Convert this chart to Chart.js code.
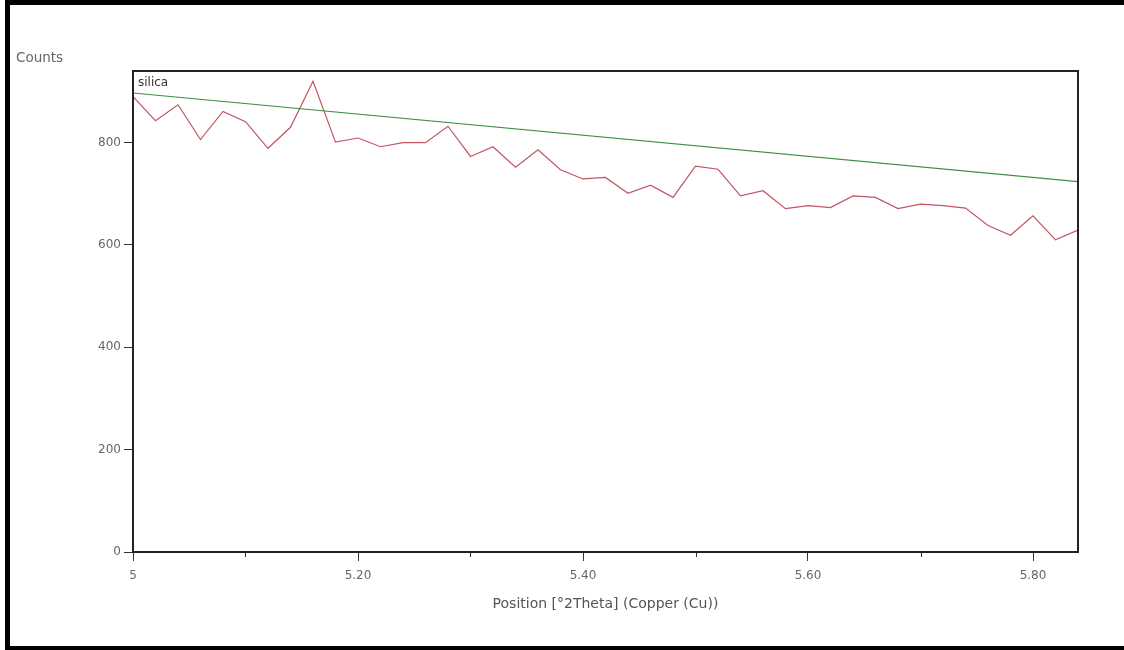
<!DOCTYPE html>
<html>
<head>
<meta charset="utf-8">
<script src="https://cdn.jsdelivr.net/npm/chart.js@4"></script>
<style>
  body { margin: 0; background: #fff; }
  #wrap { position: relative; width: 1124px; height: 650px; overflow: hidden; }
  #frame {
    position: absolute; left: 5px; top: 0; width: 1119px; height: 650px;
    box-sizing: border-box; border-top: 5px solid #000; border-left: 5px solid #000; border-bottom: 4px solid #000;
  }
  #myChart { position: absolute; left: 0; top: 0; }
</style>
</head>
<body>
<div id="wrap">
  <div id="frame"></div>
  <canvas id="myChart" width="1124" height="650"></canvas>
</div>
<script>
//* DATA *//
let positions = [5.00, 5.02, 5.04, 5.06, 5.08, 5.10, 5.12, 5.14, 5.16, 5.18,
  5.20, 5.22, 5.24, 5.26, 5.28, 5.30, 5.32, 5.34, 5.36, 5.38,
  5.40, 5.42, 5.44, 5.46, 5.48, 5.50, 5.52, 5.54, 5.56, 5.58,
  5.60, 5.62, 5.64, 5.66, 5.68, 5.70, 5.72, 5.74, 5.76, 5.78,
  5.80, 5.82, 5.84];
let counts = [890, 843, 874, 806, 861, 841, 789, 830, 920, 801,
  809, 792, 800, 800, 832, 773, 792, 752, 786, 747,
  729, 732, 701, 717, 693, 754, 748, 696, 706, 671,
  677, 673, 696, 693, 671, 680, 677, 672, 638, 619,
  657, 610, 629];
// reference pattern line
let silicaPositions = [5.00, 5.84];
let silicaCounts = [897, 724];
let xTickLabels = ['5', '5.20', '5.40', '5.60', '5.80'];
let yTicks = [0, 200, 400, 600, 800];

let ctx = document.getElementById('myChart');
let fontFam = '"DejaVu Sans", sans-serif';

function toPoints(xs, ys) {
  let pts = [];
  for (let i = 0; i < xs.length; i++) {
    pts.push({ x: xs[i], y: ys[i] });
  }
  return pts;
}

function isMajor(v) {
  return Math.round(v * 10) % 2 === 0;
}

//* PLUGIN: frame, minor ticks, extra labels *//
let extras = {
  id: 'extras',
  afterDraw(chart) {
    let c = chart.ctx;
    let a = chart.chartArea;
    let xs = chart.scales.x;
    c.save();
    // minor ticks
    c.strokeStyle = '#333';
    c.lineWidth = 1;
    xs.ticks.forEach(t => {
      if (!isMajor(t.value)) {
        let px = Math.round(xs.getPixelForValue(t.value)) + 0.5;
        c.beginPath();
        c.moveTo(px, a.bottom);
        c.lineTo(px, a.bottom + 5);
        c.stroke();
      }
    });
    // plot frame
    c.strokeStyle = '#222';
    c.lineWidth = 2;
    c.strokeRect(a.left, a.top, a.right - a.left, a.bottom - a.top);
    // texts
    c.font = '13.5px ' + fontFam;
    c.textBaseline = 'middle';
    c.textAlign = 'left';
    c.fillStyle = '#666';
    c.fillText('Counts', 16, 58);
    c.font = '12px ' + fontFam;
    c.fillStyle = '#333';
    c.fillText('silica', a.left + 5, a.top + 12);
    c.restore();
  }
};

let chartObj = {
  type: 'line',
  data: {
    datasets: [{
      label: 'silica',
      data: toPoints(silicaPositions, silicaCounts),
      borderColor: '#3f8f45',
      borderWidth: 1.2,
      pointRadius: 0,
      tension: 0
    },
    {
      label: 'measured',
      data: toPoints(positions, counts),
      borderColor: '#c25563',
      borderWidth: 1.2,
      pointRadius: 0,
      tension: 0
    }]
  },
  options: {
    responsive: false,
    animation: false,
    layout: { padding: { top: 71, right: 46, bottom: 0, left: 0 } },
    plugins: {
      legend: { display: false },
      tooltip: { enabled: false }
    },
    scales: {
      x: {
        type: 'linear',
        min: 5,
        max: 5.84,
        border: { display: false },
        grid: {
          drawOnChartArea: false,
          tickLength: 9,
          tickColor: (c) => (c.tick && isMajor(c.tick.value)) ? '#333' : 'rgba(0,0,0,0)'
        },
        ticks: {
          stepSize: 0.1,
          includeBounds: false,
          maxRotation: 0,
          autoSkip: false,
          padding: 8,
          color: '#666',
          font: { family: fontFam, size: 12 },
          callback: (v) => isMajor(v) ? xTickLabels[Math.round((v - 5) * 5)] : ''
        },
        title: {
          display: true,
          text: 'Position [°2Theta] (Copper (Cu))',
          color: '#555',
          font: { family: fontFam, size: 14 },
          padding: { top: 0, bottom: 37 }
        },
        afterFit: (s) => { s.height = 98; }
      },
      y: {
        min: 0,
        max: 940,
        border: { display: false },
        grid: {
          drawOnChartArea: false,
          tickLength: 9,
          tickColor: '#333'
        },
        afterBuildTicks: (s) => { s.ticks = yTicks.map(v => ({ value: v })); },
        ticks: {
          padding: 3,
          color: '#666',
          font: { family: fontFam, size: 12 }
        },
        afterFit: (s) => { s.width = 133; }
      }
    }
  },
  plugins: [extras]
};

new Chart(ctx, chartObj);
</script>
</body>
</html>
